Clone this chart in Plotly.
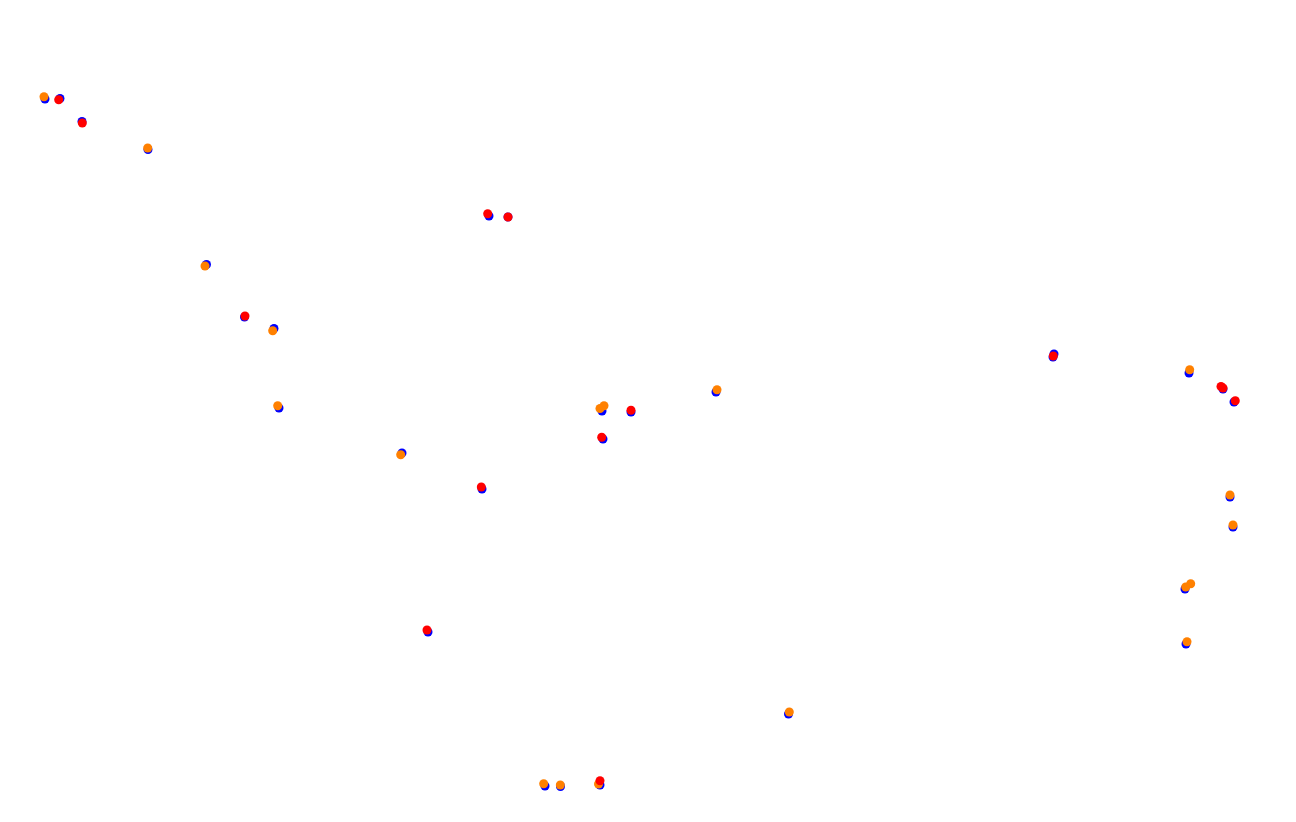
import plotly.graph_objects as go

# corner positions (x to the right, y downwards)
blue_x = [45, 60, 82, 148, 206.5, 244.5, 274, 279, 402, 482, 428, 489, 508, 602, 631, 603, 716,
          1054, 1053, 1189, 1223, 1234, 1230, 1233, 1185, 1186, 788.5, 545, 560.5, 600]
blue_y = [99, 98.5, 121.5, 149.5, 264.5, 317, 328.5, 408, 453, 489, 632, 216, 217, 411, 412, 439, 392,
          354, 357, 373, 389, 402, 497, 527, 589, 644, 714, 786, 786.5, 785]

orange_x = [44, 147.7, 205, 272.7, 277.7, 400.7, 604, 600, 717, 1189.7, 1230, 1233, 1190.7, 1185.7,
            1187, 789.3, 543.7, 560.3, 598.5]
orange_y = [96.7, 148, 266, 330.7, 405.7, 454.7, 405.7, 408.5, 389.7, 369.7, 495, 525, 583.7, 587,
            641.7, 712, 783.7, 785, 784]

red_x = [58.7, 82.3, 245, 481.3, 427, 487.7, 508, 631, 601.7, 1053.3, 1221, 1223, 1235.3, 600]
red_y = [99.7, 123, 316, 487, 630, 213.7, 217, 410.3, 437.3, 356, 386.5, 388, 400.7, 780.7]

fig = go.Figure()

fig.add_trace(go.Scatter(
    x=blue_x,
    y=blue_y,
    mode='markers',
    marker=dict(color='blue', size=9, line=dict(width=0)),
    name='blue'
))

fig.add_trace(go.Scatter(
    x=orange_x,
    y=orange_y,
    mode='markers',
    marker=dict(color='#ff8000', size=9, line=dict(width=0)),
    name='orange'
))

fig.add_trace(go.Scatter(
    x=red_x,
    y=red_y,
    mode='markers',
    marker=dict(color='red', size=9, line=dict(width=0)),
    name='red'
))

# page body has an 8px margin, so the plot area is shifted by that much
fig.update_layout(
    width=1296,
    height=822,
    margin=dict(l=0, r=0, t=0, b=0),
    paper_bgcolor='white',
    plot_bgcolor='white',
    showlegend=False,
    xaxis=dict(range=[8, 1304], visible=False),
    yaxis=dict(range=[830, 8], visible=False),
)

fig.write_html("out.html")
